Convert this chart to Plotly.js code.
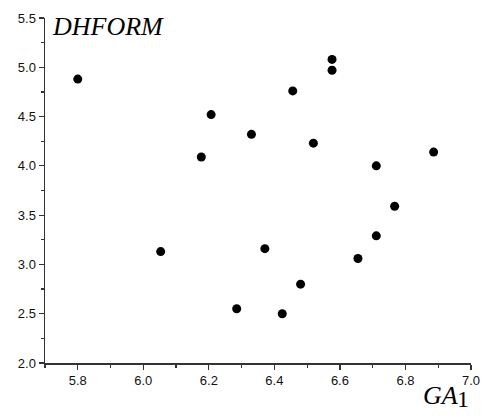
<!DOCTYPE html>
<html>
<head>
<meta charset="utf-8">
<script src="https://cdn.plot.ly/plotly-3.0.1.min.js"></script>
<style>
  html, body { margin: 0; padding: 0; background: #fff; }
  #chart { width: 483px; height: 418px; }
</style>
</head>
<body>
<div id="chart"></div>
<script>
// GA1 descriptor vs. DHFORM values
const ga1 = [5.80, 6.053, 6.177, 6.207, 6.330, 6.285, 6.371, 6.480, 6.424,
             6.456, 6.519, 6.576, 6.576, 6.655, 6.711, 6.711, 6.767, 6.886];
const dhform = [4.88, 3.13, 4.09, 4.52, 4.32, 2.55, 3.16, 2.80, 2.50,
                4.76, 4.23, 5.08, 4.97, 3.06, 4.00, 3.29, 3.59, 4.14];

const xTicks = [5.8, 6.0, 6.2, 6.4, 6.6, 6.8, 7.0];
const yTicks = [2.0, 2.5, 3.0, 3.5, 4.0, 4.5, 5.0, 5.5];

const axisBase = {
  showgrid: false,
  zeroline: false,
  showline: true,
  linecolor: '#333',
  linewidth: 1.5,
  ticks: 'outside',
  ticklen: 5,
  tickwidth: 1.2,
  tickcolor: '#333',
  tickfont: { family: 'Liberation Sans, Arial, sans-serif', size: 13, color: '#111' },
  mirror: false
};

const trace = {
  x: ga1,
  y: dhform,
  type: 'scatter',
  mode: 'markers',
  marker: { color: '#000', size: 9 },
  hoverinfo: 'x+y'
};

const serif = 'Liberation Serif, Times New Roman, serif';

const layout = {
  width: 483,
  height: 418,
  margin: { l: 45, r: 12, t: 18, b: 55 },
  paper_bgcolor: '#fff',
  plot_bgcolor: '#fff',
  showlegend: false,
  xaxis: Object.assign({}, axisBase, {
    range: [5.7, 7.0],
    tickvals: xTicks,
    ticktext: xTicks.map(v => v.toFixed(1)),
    minor: { dtick: 0.1, tick0: 5.7, ticks: 'outside', ticklen: 3, tickcolor: '#333', tickwidth: 1.2 }
  }),
  yaxis: Object.assign({}, axisBase, {
    range: [2.0, 5.5],
    tickvals: yTicks,
    ticktext: yTicks.map(v => v.toFixed(1)),
    minor: { dtick: 0.25, tick0: 2.0, ticks: 'outside', ticklen: 3, tickcolor: '#333', tickwidth: 1.2 }
  }),
  annotations: [
    {
      text: '<i>DHFORM</i>',
      xref: 'paper', yref: 'paper',
      x: 0.011, y: 1.023,
      xanchor: 'left', yanchor: 'top',
      showarrow: false,
      font: { family: serif, size: 26, color: '#000' }
    },
    {
      text: '<i>GA</i>',
      xref: 'paper', yref: 'paper',
      x: 0.882, y: -0.046,
      xanchor: 'left', yanchor: 'top',
      showarrow: false,
      font: { family: serif, size: 26, color: '#000' }
    },
    {
      text: '1',
      xref: 'paper', yref: 'paper',
      x: 0.962, y: -0.061,
      xanchor: 'left', yanchor: 'top',
      showarrow: false,
      font: { family: serif, size: 24, color: '#000' }
    }
  ]
};

Plotly.newPlot('chart', [trace], layout, { displayModeBar: false, staticPlot: true });
</script>
</body>
</html>
